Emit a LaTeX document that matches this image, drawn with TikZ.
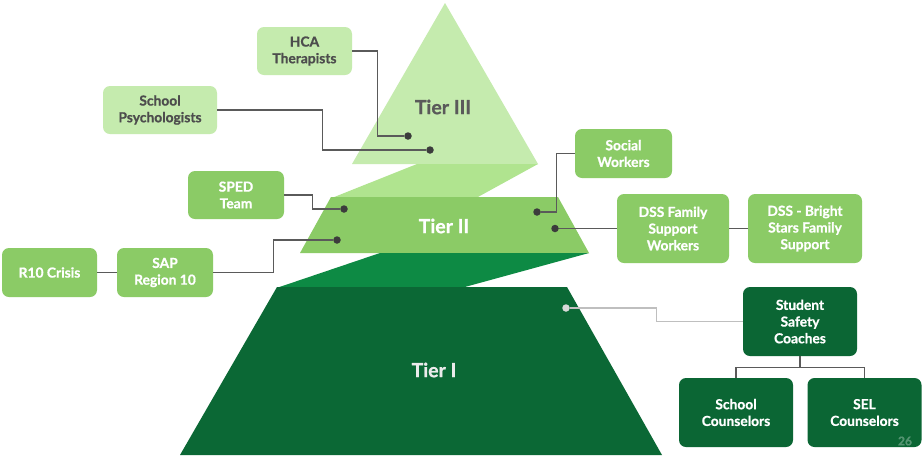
\documentclass[tikz,border=0pt]{standalone}
\usepackage{fontspec}
\setmainfont{Lato}[BoldFeatures={FakeBold=0.8}]
\definecolor{tthree}{HTML}{C5EBAE}
\definecolor{rone}{HTML}{B0E48F}
\definecolor{ttwo}{HTML}{8BCB66}
\definecolor{rtwo}{HTML}{0D8A44}
\definecolor{tone}{HTML}{0B6835}
\definecolor{dkbox}{HTML}{0B6634}
\definecolor{txtgray}{HTML}{4D4D4D}
\definecolor{lngray}{HTML}{5A5A5A}
\definecolor{dotgray}{HTML}{3C3C3C}
\begin{document}
\begin{tikzpicture}[x=1pt,y=-1pt,
  box/.style={rounded corners=7pt, align=center, inner sep=2pt,
    font=\fontsize{13.8}{16.7}\selectfont\bfseries},
  lbox/.style={box, fill=tthree, text=txtgray},
  mbox/.style={box, fill=ttwo, text=white},
  dbox/.style={box, fill=dkbox, text=white},
  conn/.style={draw=lngray, line width=1.3pt},
  lconn/.style={draw=black!25, line width=1.1pt},
  dot/.style={circle, fill=dotgray, inner sep=0pt, minimum size=7.5pt},
  ldot/.style={circle, fill=black!15, inner sep=0pt, minimum size=7.5pt},
  tier/.style={font=\fontsize{19.5}{22}\selectfont\bfseries}]
\useasboundingbox (0,0) rectangle (922,456);
\fill[white] (0,0) rectangle (922,456);
% pyramid
\fill[tthree] (445,3) -- (538,164) -- (352,164) -- cycle;
\fill[rone] (417,164) -- (538,164) -- (477,197.5) -- (333,197.5) -- cycle;
\fill[ttwo] (331,197) -- (558,197) -- (589,253) -- (300,253) -- cycle;
\fill[rtwo] (380,253) -- (589,253) -- (463,287.5) -- (278,287.5) -- cycle;
\fill[tone] (277,287) -- (567,287) -- (662,455) -- (180,455) -- cycle;
\node[tier, text=lngray] (t3) at (443,107) {Tier III};
\node[tier, text=white] (t2) at (444,226) {Tier II};
\node[tier, text=white!92!black] (t1) at (434,370) {Tier I};
% dots
\node[dot] (d1) at (408,136) {};
\node[dot] (d2) at (430,150) {};
\node[dot] (d3) at (344,209) {};
\node[dot] (d4) at (337,240) {};
\node[dot] (d5) at (537,212) {};
\node[dot] (d6) at (555,228.5) {};
\node[ldot] (d7) at (566,308) {};
% boxes
\node[lbox, minimum width=95pt, minimum height=48pt] (hca) at (304.5,51) {HCA\\Therapists};
\node[lbox, minimum width=114pt, minimum height=48pt] (psy) at (160,110) {School\\Psychologists};
\node[mbox, minimum width=96pt, minimum height=48pt] (sped) at (236,195) {SPED\\Team};
\node[mbox, minimum width=96pt, minimum height=49pt] (sap) at (165,272.5) {SAP\\Region 10};
\node[mbox, minimum width=95pt, minimum height=49pt] (r10) at (49.5,272.5) {R10 Crisis};
\node[mbox, minimum width=97pt, minimum height=49pt] (soc) at (623.5,153.5) {Social\\Workers};
\node[mbox, minimum width=112pt, minimum height=69pt] (dssf) at (673,228.5) {DSS Family\\Support\\Workers};
\node[mbox, minimum width=114pt, minimum height=69pt] (dssb) at (805,228.5) {DSS - Bright\\Stars Family\\Support};
\node[dbox, minimum width=114pt, minimum height=69pt] (ssc) at (800,321.5) {Student\\Safety\\Coaches};
\node[dbox, minimum width=114pt, minimum height=69pt] (sc) at (736,412.5) {School\\Counselors};
\node[dbox, minimum width=114pt, minimum height=69pt] (sel) at (864.5,412.5) {SEL\\Counselors};
% connectors
\draw[conn] (hca.east) -- ++(25,0) |- (d1);
\draw[conn] (psy.east) -- ++(105,0) |- (d2);
\draw[conn] (sped.east) -- ++(28,0) |- (d3);
\draw[conn] (sap.east) -- ++(60,0) |- (d4);
\draw[conn] (r10.east) -- (sap.west);
\draw[conn] (soc.west) -- ++(-18,0) |- (d5);
\draw[conn] (dssf.west) -- (d6);
\draw[conn] (dssf.east) -- (dssb.west);
\draw[lconn] (ssc.west) -- ++(-86,0) |- (d7);
\draw[conn] (ssc.south) -- ++(0,11) -| (sc.north);
\draw[conn] (ssc.south) -- ++(0,11) -| (sel.north);
\node[text=white!30!dkbox, font=\fontsize{12}{14}\selectfont\bfseries] (pg) at (905,441) {26};
\end{tikzpicture}
\end{document}
